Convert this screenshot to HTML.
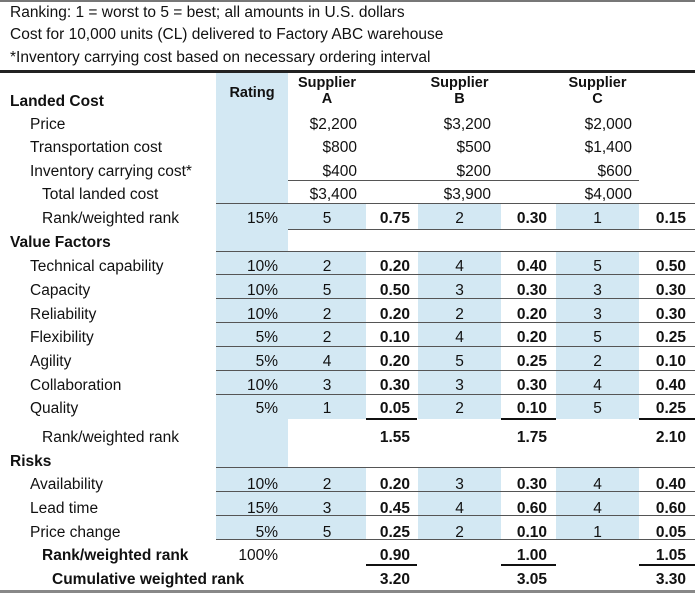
<!DOCTYPE html>
<html><head><meta charset="utf-8"><style>
body{margin:0;width:695px;height:594px;background:#fff;position:relative;overflow:hidden;font-family:"Liberation Sans",Arial,sans-serif;font-size:15.5px;color:#111}
.b{position:absolute;background:#d3e8f3}
.ln{position:absolute;height:1px;background:#555}
.bk{position:absolute;height:2px;background:#111}
.row{position:absolute;left:0;width:695px;height:18px;line-height:18px}
.row span{position:absolute;white-space:nowrap}
.l0{left:10px;font-weight:bold}.l1{left:30px}.l2{left:42px}
.r{right:417px}.ar{left:288px;width:78px;text-align:center}.aw{right:285px;font-weight:bold}
.br{left:418px;width:83px;text-align:center}.bw{right:148px;font-weight:bold}
.cr{left:556px;width:83px;text-align:center}.cw{right:9px;font-weight:bold}
.ad{right:338px}.bd{right:204px}.cd{right:63px}
.h{font-weight:bold;text-align:center;font-size:14.5px}
</style></head><body>
<div style="position:absolute;left:0;top:0;width:695px;height:2px;background:#777"></div>
<div class="row" style="top:4px"><span style="left:10px">Ranking: 1 = worst to 5 = best; all amounts in U.S. dollars</span></div>
<div class="row" style="top:26px"><span style="left:10px">Cost for 10,000 units (CL) delivered to Factory ABC warehouse</span></div>
<div class="row" style="top:49px"><span style="left:10px">*Inventory carrying cost based on necessary ordering interval</span></div>
<div style="position:absolute;left:0;top:70px;width:695px;height:3px;background:#222"></div>

<div class="b" style="left:216px;top:73px;width:72px;height:467px"></div>
<div class="b" style="left:288px;top:204px;width:78px;height:25px"></div>
<div class="b" style="left:418px;top:204px;width:83px;height:25px"></div>
<div class="b" style="left:556px;top:204px;width:83px;height:25px"></div>
<div class="b" style="left:288px;top:252px;width:78px;height:167px"></div>
<div class="b" style="left:418px;top:252px;width:83px;height:167px"></div>
<div class="b" style="left:556px;top:252px;width:83px;height:167px"></div>
<div class="b" style="left:288px;top:468px;width:78px;height:72px"></div>
<div class="b" style="left:418px;top:468px;width:83px;height:72px"></div>
<div class="b" style="left:556px;top:468px;width:83px;height:72px"></div>

<div class="ln" style="left:288px;width:351px;top:180px"></div>
<div class="ln" style="left:216px;width:479px;top:203px"></div>
<div class="ln" style="left:288px;width:407px;top:229px"></div>
<div class="ln" style="left:216px;width:479px;top:251px"></div>
<div class="ln" style="left:216px;width:479px;top:274px"></div>
<div class="ln" style="left:216px;width:479px;top:298px"></div>
<div class="ln" style="left:216px;width:479px;top:322px"></div>
<div class="ln" style="left:216px;width:479px;top:346px"></div>
<div class="ln" style="left:216px;width:479px;top:370px"></div>
<div class="ln" style="left:216px;width:479px;top:394px"></div>
<div class="bk" style="left:366px;width:51px;top:418px"></div>
<div class="bk" style="left:501px;width:55px;top:418px"></div>
<div class="bk" style="left:639px;width:56px;top:418px"></div>
<div class="ln" style="left:216px;width:479px;top:467px"></div>
<div class="ln" style="left:216px;width:479px;top:491px"></div>
<div class="ln" style="left:216px;width:479px;top:515px"></div>
<div class="ln" style="left:216px;width:479px;top:539px"></div>
<div class="bk" style="left:366px;width:51px;top:564px"></div>
<div class="bk" style="left:501px;width:55px;top:564px"></div>
<div class="bk" style="left:639px;width:56px;top:564px"></div>
<div style="position:absolute;left:0;top:590px;width:695px;height:3px;background:#888"></div>

<div class="row" style="top:74px"><span class="ar h">Supplier</span><span class="br h">Supplier</span><span class="cr h">Supplier</span></div>
<div class="row" style="top:84px"><span class="h" style="left:216px;width:72px">Rating</span></div>
<div class="row" style="top:90px"><span class="ar h">A</span><span class="br h">B</span><span class="cr h">C</span></div>
<div class="row" style="top:93px"><span class="l0">Landed Cost</span></div>
<div class="row" style="top:116px"><span class="l1">Price</span><span class="ad">$2,200</span><span class="bd">$3,200</span><span class="cd">$2,000</span></div>
<div class="row" style="top:139px"><span class="l1">Transportation cost</span><span class="ad">$800</span><span class="bd">$500</span><span class="cd">$1,400</span></div>
<div class="row" style="top:163px"><span class="l1">Inventory carrying cost*</span><span class="ad">$400</span><span class="bd">$200</span><span class="cd">$600</span></div>
<div class="row" style="top:186px"><span class="l2">Total landed cost</span><span class="ad">$3,400</span><span class="bd">$3,900</span><span class="cd">$4,000</span></div>
<div class="row" style="top:210px"><span class="l2">Rank/weighted rank</span><span class="r">15%</span><span class="ar">5</span><span class="aw">0.75</span><span class="br">2</span><span class="bw">0.30</span><span class="cr">1</span><span class="cw">0.15</span></div>
<div class="row" style="top:234px"><span class="l0">Value Factors</span></div>
<div class="row" style="top:258px"><span class="l1">Technical capability</span><span class="r">10%</span><span class="ar">2</span><span class="aw">0.20</span><span class="br">4</span><span class="bw">0.40</span><span class="cr">5</span><span class="cw">0.50</span></div>
<div class="row" style="top:282px"><span class="l1">Capacity</span><span class="r">10%</span><span class="ar">5</span><span class="aw">0.50</span><span class="br">3</span><span class="bw">0.30</span><span class="cr">3</span><span class="cw">0.30</span></div>
<div class="row" style="top:306px"><span class="l1">Reliability</span><span class="r">10%</span><span class="ar">2</span><span class="aw">0.20</span><span class="br">2</span><span class="bw">0.20</span><span class="cr">3</span><span class="cw">0.30</span></div>
<div class="row" style="top:329px"><span class="l1">Flexibility</span><span class="r">5%</span><span class="ar">2</span><span class="aw">0.10</span><span class="br">4</span><span class="bw">0.20</span><span class="cr">5</span><span class="cw">0.25</span></div>
<div class="row" style="top:353px"><span class="l1">Agility</span><span class="r">5%</span><span class="ar">4</span><span class="aw">0.20</span><span class="br">5</span><span class="bw">0.25</span><span class="cr">2</span><span class="cw">0.10</span></div>
<div class="row" style="top:377px"><span class="l1">Collaboration</span><span class="r">10%</span><span class="ar">3</span><span class="aw">0.30</span><span class="br">3</span><span class="bw">0.30</span><span class="cr">4</span><span class="cw">0.40</span></div>
<div class="row" style="top:400px"><span class="l1">Quality</span><span class="r">5%</span><span class="ar">1</span><span class="aw">0.05</span><span class="br">2</span><span class="bw">0.10</span><span class="cr">5</span><span class="cw">0.25</span></div>
<div class="row" style="top:429px"><span class="l2">Rank/weighted rank</span><span class="aw">1.55</span><span class="bw">1.75</span><span class="cw">2.10</span></div>
<div class="row" style="top:453px"><span class="l0">Risks</span></div>
<div class="row" style="top:476px"><span class="l1">Availability</span><span class="r">10%</span><span class="ar">2</span><span class="aw">0.20</span><span class="br">3</span><span class="bw">0.30</span><span class="cr">4</span><span class="cw">0.40</span></div>
<div class="row" style="top:500px"><span class="l1">Lead time</span><span class="r">15%</span><span class="ar">3</span><span class="aw">0.45</span><span class="br">4</span><span class="bw">0.60</span><span class="cr">4</span><span class="cw">0.60</span></div>
<div class="row" style="top:524px"><span class="l1">Price change</span><span class="r">5%</span><span class="ar">5</span><span class="aw">0.25</span><span class="br">2</span><span class="bw">0.10</span><span class="cr">1</span><span class="cw">0.05</span></div>
<div class="row" style="top:547px"><span class="l2" style="font-weight:bold">Rank/weighted rank</span><span class="r">100%</span><span class="aw">0.90</span><span class="bw">1.00</span><span class="cw">1.05</span></div>
<div class="row" style="top:571px"><span style="left:52px;font-weight:bold">Cumulative weighted rank</span><span class="aw">3.20</span><span class="bw">3.05</span><span class="cw">3.30</span></div>
</body></html>
